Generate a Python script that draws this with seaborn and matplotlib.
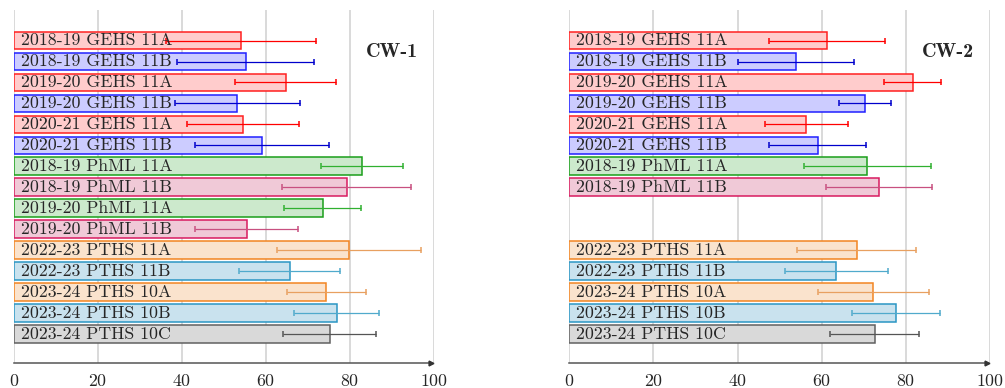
import numpy as np
import pandas as pd
import matplotlib
matplotlib.use("Agg")
import matplotlib.pyplot as plt
import seaborn as sns

# class labels, top to bottom
names = [
    "2018-19 GEHS 11A", "2018-19 GEHS 11B", "2019-20 GEHS 11A", "2019-20 GEHS 11B",
    "2020-21 GEHS 11A", "2020-21 GEHS 11B", "2018-19 PhML 11A", "2018-19 PhML 11B",
    "2019-20 PhML 11A", "2019-20 PhML 11B", "2022-23 PTHS 11A", "2022-23 PTHS 11B",
    "2023-24 PTHS 10A", "2023-24 PTHS 10B", "2023-24 PTHS 10C",
]

# CW-1 means and standard deviations
cw1_mean = [54.1, 55.2, 64.7, 53.2, 54.6, 59.0, 82.8, 79.2, 73.5, 55.4, 79.8, 65.6, 74.4, 76.8, 75.2]
cw1_err = [17.8, 16.3, 12.0, 14.9, 13.3, 16.0, 9.8, 15.4, 9.1, 12.3, 17.2, 12.1, 9.5, 10.1, 11.1]

# CW-2 (no data for 2019-20 PhML)
cw2_mean = [61.2, 53.9, 81.6, 70.3, 56.3, 59.0, 70.8, 73.6, np.nan, np.nan, 68.3, 63.5, 72.3, 77.6, 72.6]
cw2_err = [13.8, 13.7, 6.8, 6.1, 9.9, 11.6, 15.1, 12.5, np.nan, np.nan, 14.1, 12.2, 13.3, 10.4, 10.6]

x_ticks = [0, 20, 40, 60, 80, 100]

# (edge, fill, error line) per school + class letter
styles = {
    ("GEHS", "A"): ("#ff2020", "#ffcccc", "#ff0000"),
    ("GEHS", "B"): ("#2020ff", "#ccccff", "#0000cc"),
    ("PhML", "A"): ("#1a9e1a", "#cce9cc", "#30b030"),
    ("PhML", "B"): ("#d81b60", "#f0c9d7", "#c85080"),
    ("PTHS", "A"): ("#f28522", "#fae3cd", "#e8a060"),
    ("PTHS", "B"): ("#2a96c4", "#c9e2ee", "#50aacc"),
    ("PTHS", "C"): ("#606060", "#d9d9d9", "#555555"),
}


def style_of(name):
    parts = name.split()
    return styles[(parts[1], parts[2][-1])]


sns.set_style("white")
plt.rcParams["font.family"] = ["cmr10", "DejaVu Serif"]
plt.rcParams["axes.formatter.use_mathtext"] = True

fig = plt.figure(figsize=(10.05, 3.88), dpi=100)
ax1 = fig.add_axes([14 / 1005, 25 / 388, 420 / 1005, 353 / 388])
ax2 = fig.add_axes([569.3 / 1005, 25 / 388, 420.7 / 1005, 353 / 388])


def draw_panel(ax, means, errs, title):
    df = pd.DataFrame({"name": names, "score": means})
    fills = {n: style_of(n)[1] for n in names}
    sns.barplot(data=df, x="score", y="name", hue="name", order=names, hue_order=names,
                palette=fills, saturation=1, width=0.84, legend=False, ax=ax, zorder=2)
    for p in ax.patches:
        row = int(round(p.get_y() + p.get_height() / 2))
        p.set_edgecolor(style_of(names[row])[0])
        p.set_linewidth(1.1)

    for i, (m, e) in enumerate(zip(means, errs)):
        if np.isnan(m):
            continue
        line_c = style_of(names[i])[2]
        _, caps, bars = ax.errorbar(m, i, xerr=e, fmt="none", ecolor=line_c,
                                    elinewidth=0.9, capsize=2.2, capthick=1.1, zorder=3)
        for c in caps:
            c.set_color("#404040")
        ax.text(1.6, i, names[i], va="center", ha="left", fontsize=12.8, zorder=4)

    ax.text(90, 0.55, title, ha="center", va="center", fontsize=14.5,
            fontweight="bold", family=["cmb10", "DejaVu Serif"])

    ax.set_xlim(0, 100)
    ax.set_ylim(15.39, -1.46)
    ax.set_xticks(x_ticks)
    ax.set_yticks([])
    ax.set_xlabel("")
    ax.set_ylabel("")
    for xv in x_ticks:
        ax.axvline(xv, color="#cfcfcf", lw=1.1, zorder=0)
    for side in ["top", "right", "left"]:
        ax.spines[side].set_visible(False)
    ax.spines["bottom"].set_color("#555555")
    ax.spines["bottom"].set_linewidth(1.1)
    ax.spines["bottom"].set_bounds(0, 99.3)
    ax.tick_params(axis="x", direction="inout", length=6, width=0.8, color="#555555",
                   labelsize=12.8, pad=4)
    ax.plot(99.2, 15.39, marker=">", color="#333333", markersize=3.5, clip_on=False, zorder=5)


draw_panel(ax1, cw1_mean, cw1_err, "CW-1")
draw_panel(ax2, cw2_mean, cw2_err, "CW-2")

fig.savefig("out.png", dpi=100)
